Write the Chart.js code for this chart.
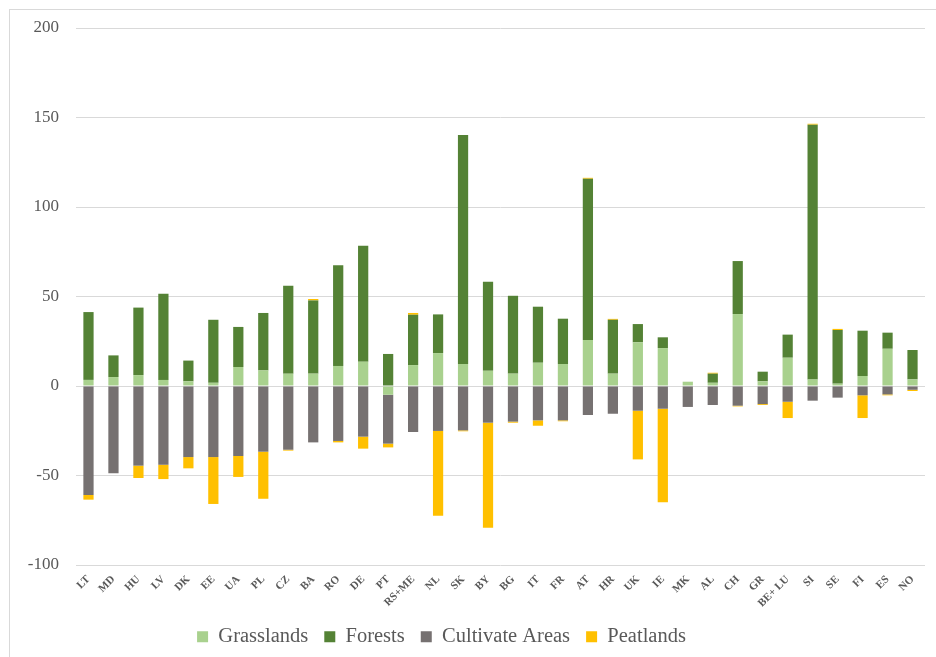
<!DOCTYPE html>
<html>
<head>
<meta charset="utf-8">
<script src="https://cdn.jsdelivr.net/npm/chart.js@4/dist/chart.umd.min.js"></script>
<style>
  html, body { margin: 0; padding: 0; background: #fff; overflow: hidden; }
  #wrap { position: relative; width: 936px; height: 657px; overflow: hidden; }
  #frame { position: absolute; left: 9px; top: 9px; width: 1000px; height: 1000px; border: 1px solid #d9d9d9; box-sizing: border-box; pointer-events: none; }
</style>
</head>
<body>
<div id="wrap">
  <canvas id="c" width="936" height="657"></canvas>
  <div id="frame"></div>
</div>
<script>
const countries = ['LT','MD','HU','LV','DK','EE','UA','PL','CZ','BA','RO','DE','PT','RS+ME','NL','SK','BY','BG','IT','FR','AT','HR','UK','IE','MK','AL','CH','GR','BE+ LU','SI','SE','FI','ES','NO'];
const grasslands = [3.4,5.0,6.1,3.4,2.6,1.8,10.6,8.7,6.9,6.9,11.2,13.6,-4.9,11.7,18.4,12.3,8.5,6.9,13.0,12.3,25.7,6.9,24.4,21.2,2.4,1.8,40.2,2.6,15.8,3.7,1.3,5.6,20.8,3.7];
const forests = [37.9,12.1,37.7,48.2,11.6,35.2,22.4,32.1,49.1,40.9,56.2,64.8,17.9,28.1,21.6,127.9,49.8,43.5,31.3,25.3,90.1,30.1,10.2,6.0,0,5.1,29.6,5.4,12.9,142.3,30.0,25.3,9.0,16.4];
const cultivated = [-60.9,-48.8,-44.5,-44.0,-39.7,-39.7,-39.1,-36.7,-35.6,-31.5,-30.7,-28.3,-27.3,-25.7,-25.1,-24.8,-20.5,-19.9,-19.2,-19.2,-16.2,-15.5,-13.8,-12.7,-11.7,-10.6,-11.0,-10.1,-8.8,-8.2,-6.5,-5.2,-4.7,-2.1];
const peatlands = [-2.6,0,-6.9,-8.0,-6.3,-26.2,-11.7,-26.3,-0.5,0.8,-0.8,-6.7,-2.1,1.0,-47.4,-0.5,-58.7,-0.6,-3.0,-0.5,0.5,0.5,-27.2,-52.3,0,0.5,-0.4,-0.5,-9.1,0.5,0.6,-12.7,-0.5,-0.7];
const yTicks = [-100,-50,0,50,100,150,200];

const serif = "'Liberation Serif', 'Times New Roman', serif";
const textColor = '#595959';

const legendShift = {
  id: 'legendShift',
  afterLayout(chart) {
    const lg = chart.legend;
    if (lg) { lg.left -= 21; lg.right -= 21; }
  }
};

new Chart(document.getElementById('c'), {
  type: 'bar',
  data: {
    labels: countries,
    datasets: [
      { label: 'Grasslands', data: grasslands, backgroundColor: '#A9D18E' },
      { label: 'Forests', data: forests, backgroundColor: '#548235' },
      { label: 'Cultivate Areas', data: cultivated, backgroundColor: '#767171' },
      { label: 'Peatlands', data: peatlands, backgroundColor: '#FFC000' }
    ]
  },
  plugins: [legendShift],
  options: {
    responsive: false,
    animation: false,
    devicePixelRatio: 1,
    layout: { padding: { left: 0, right: 11, top: 28, bottom: 0 } },
    datasets: { bar: { barPercentage: 0.41, categoryPercentage: 1.0 } },
    plugins: {
      tooltip: { enabled: false },
      legend: {
        position: 'bottom',
        labels: {
          font: { family: serif, size: 20.5 },
          color: textColor,
          boxWidth: 11,
          boxHeight: 11,
          padding: 16
        }
      }
    },
    scales: {
      x: {
        stacked: true,
        grid: { display: false, drawTicks: false },
        border: { display: false },
        ticks: {
          autoSkip: false,
          maxRotation: 45,
          minRotation: 45,
          padding: 8,
          font: { family: serif, size: 11, weight: 'bold' },
          color: textColor
        },
        afterFit: (s) => { s.height = 45.5; }
      },
      y: {
        stacked: true,
        min: -100,
        max: 200,
        afterBuildTicks: (s) => { s.ticks = yTicks.map(v => ({ value: v })); },
        grid: { color: '#d9d9d9', lineWidth: 1, drawTicks: false },
        border: { display: false },
        ticks: {
          padding: 17,
          font: { family: serif, size: 17 },
          color: textColor
        },
        afterFit: (s) => { s.width = 76; }
      }
    }
  }
});
</script>
</body>
</html>
